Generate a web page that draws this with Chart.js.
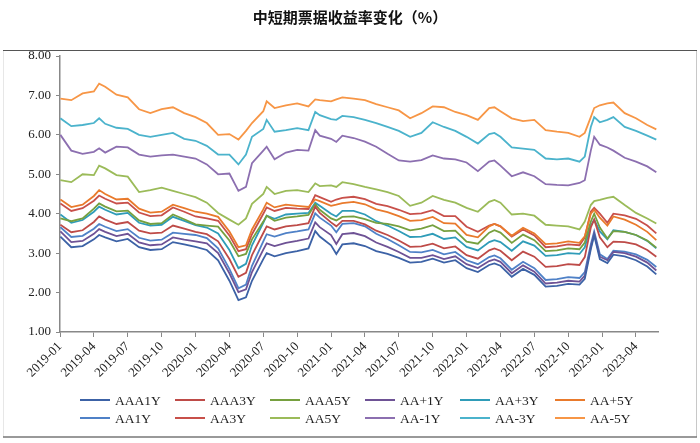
<!DOCTYPE html>
<html>
<head>
<meta charset="utf-8">
<script src="https://cdn.jsdelivr.net/npm/chart.js@4.4.0/dist/chart.umd.min.js"></script>
<style>
  html, body { margin: 0; padding: 0; background: #fff; }
  #wrap { width: 700px; height: 443px; position: relative; }
</style>
</head>
<body>
<div id="wrap"><canvas id="chart" width="700" height="443"></canvas></div>
<script>
// observation dates (irregular where the curves move fast)
const dates = [
  '2019-01-02','2019-02-01','2019-03-01','2019-04-01','2019-04-15','2019-05-01','2019-06-01','2019-07-01','2019-08-01','2019-09-01','2019-10-01','2019-11-01','2019-12-01',
  '2020-01-01','2020-02-01','2020-03-01','2020-04-01','2020-04-25','2020-05-15','2020-06-01','2020-07-01','2020-07-10','2020-08-01','2020-09-01','2020-10-01','2020-11-01','2020-11-19','2020-12-01',
  '2021-01-01','2021-01-15','2021-02-01','2021-03-01','2021-04-01','2021-05-01','2021-06-01','2021-07-01','2021-08-01','2021-09-01','2021-10-01','2021-11-01','2021-12-01',
  '2022-01-01','2022-02-01','2022-03-01','2022-03-15','2022-04-01','2022-05-01','2022-06-01','2022-07-01','2022-08-01','2022-09-01','2022-10-01','2022-11-01','2022-11-15','2022-12-01','2022-12-10','2022-12-25',
  '2023-01-15','2023-02-01','2023-03-01','2023-04-01','2023-05-01','2023-05-25'
];

const seriesNames = ['AAA1Y', 'AAA3Y', 'AAA5Y', 'AA+1Y', 'AA+3Y', 'AA+5Y', 'AA1Y', 'AA3Y', 'AA5Y', 'AA-1Y', 'AA-3Y', 'AA-5Y'];
const seriesColors = ['#3c62a6', '#be4b48', '#76a03f', '#6e5295', '#2f9cb8', '#e97a2c', '#4f81c7', '#c8504a', '#9bbb59', '#8c6fb0', '#4bb3cc', '#f79646'];

const aaa1y = [3.42,3.15,3.18,3.35,3.46,3.40,3.30,3.36,3.15,3.08, 3.10,3.28,3.22,3.16,3.08,2.82,2.30,1.81,1.88,2.30,
  2.85,3.00,2.92,3.00,3.05,3.12,3.56,3.42,3.20,2.98, 3.22,3.25,3.18,3.05,2.98,2.88,2.76,2.78,2.86,2.76,
  2.82,2.62,2.52,2.70,2.74,2.68,2.40,2.60,2.45,2.15, 2.17,2.22,2.20,2.35,3.10,3.45,2.85,2.75,2.96,2.92, 2.82,2.66,2.46];
const aaa3y = [3.72,3.53,3.58,3.79,3.93,3.85,3.74,3.79,3.57,3.50, 3.52,3.70,3.62,3.54,3.48,3.30,2.85,2.40,2.50,2.95,
  3.51,3.68,3.60,3.68,3.71,3.76,4.18,4.02,3.78,3.68, 3.82,3.82,3.73,3.57,3.46,3.32,3.16,3.17,3.24,3.12,
  3.17,2.95,2.86,3.07,3.12,3.06,2.82,3.04,2.91,2.65, 2.67,2.72,2.70,2.90,3.65,3.85,3.40,3.15,3.29,3.28, 3.22,3.08,2.91];
const aaa5y = [3.88,3.81,3.88,4.13,4.26,4.18,4.06,4.08,3.83,3.74, 3.76,3.98,3.86,3.73,3.70,3.67,3.32,2.92,2.98,3.35,
  3.80,3.95,3.82,3.90,3.93,3.97,4.24,4.10,3.88,3.83, 3.92,3.93,3.86,3.77,3.74,3.68,3.58,3.62,3.71,3.56,
  3.57,3.29,3.24,3.52,3.58,3.52,3.26,3.47,3.33,3.05, 3.07,3.12,3.10,3.27,3.80,4.00,3.65,3.37,3.56,3.54, 3.46,3.32,3.14];
const aap1y = [3.55,3.28,3.31,3.49,3.61,3.54,3.43,3.49,3.27,3.20, 3.22,3.40,3.34,3.30,3.25,3.00,2.49,2.01,2.08,2.52,
  3.09,3.25,3.18,3.26,3.31,3.37,3.78,3.66,3.46,3.23, 3.48,3.51,3.43,3.27,3.16,3.03,2.88,2.88,2.95,2.85,
  2.92,2.72,2.62,2.80,2.84,2.78,2.49,2.69,2.53,2.23, 2.25,2.30,2.28,2.43,3.15,3.49,2.91,2.82,3.03,3.00, 2.91,2.76,2.56];
const aap3y = [3.98,3.77,3.84,4.05,4.18,4.10,3.98,4.02,3.77,3.70, 3.72,3.92,3.82,3.71,3.65,3.50,3.08,2.62,2.73,3.20,
  3.77,3.95,3.87,3.98,4.00,4.02,4.28,4.20,4.00,3.93, 4.07,4.07,3.98,3.81,3.70,3.56,3.41,3.42,3.49,3.36,
  3.40,3.16,3.07,3.28,3.33,3.28,3.06,3.30,3.19,2.93, 2.95,3.00,2.98,3.15,3.70,3.85,3.55,3.35,3.58,3.54, 3.46,3.31,3.12];
const aap5y = [4.36,4.17,4.23,4.45,4.60,4.50,4.36,4.38,4.13,4.03, 4.05,4.23,4.14,4.05,4.00,3.92,3.55,3.15,3.20,3.60,
  4.11,4.28,4.16,4.23,4.20,4.17,4.36,4.32,4.20,4.23, 4.27,4.30,4.24,4.11,4.04,3.94,3.82,3.84,3.92,3.76,
  3.75,3.46,3.40,3.68,3.74,3.68,3.44,3.64,3.50,3.23, 3.25,3.30,3.26,3.43,4.00,4.10,3.90,3.70,3.93,3.85, 3.72,3.54,3.33];
const aa1y = [3.66,3.41,3.44,3.62,3.74,3.67,3.56,3.61,3.39,3.32, 3.34,3.52,3.49,3.46,3.38,3.12,2.60,2.11,2.20,2.68,
  3.30,3.48,3.42,3.51,3.55,3.60,4.01,3.90,3.70,3.53, 3.74,3.76,3.68,3.49,3.36,3.20,3.03,3.02,3.08,2.97,
  3.03,2.82,2.72,2.90,2.94,2.87,2.58,2.78,2.62,2.32, 2.34,2.39,2.37,2.52,3.22,3.55,2.97,2.85,3.06,3.04, 2.97,2.83,2.65];
const aa3y = [4.26,4.07,4.14,4.33,4.46,4.38,4.26,4.28,4.03,3.94, 3.96,4.16,4.05,3.93,3.88,3.82,3.45,3.05,3.10,3.48,
  4.00,4.16,4.07,4.15,4.13,4.12,4.47,4.42,4.30,4.36, 4.40,4.43,4.37,4.25,4.19,4.10,3.99,4.01,4.09,3.94,
  3.94,3.67,3.54,3.70,3.74,3.68,3.42,3.60,3.45,3.15, 3.17,3.22,3.20,3.40,4.05,4.15,4.00,3.77,4.00,3.96, 3.87,3.70,3.50];
const aa5y = [4.85,4.80,5.00,4.98,5.22,5.15,4.98,4.94,4.55,4.60, 4.66,4.58,4.50,4.42,4.28,4.02,3.85,3.72,3.88,4.25,
  4.50,4.68,4.50,4.58,4.60,4.55,4.77,4.70,4.72,4.68, 4.80,4.75,4.68,4.62,4.55,4.45,4.20,4.28,4.45,4.35,
  4.28,4.15,4.05,4.30,4.35,4.28,3.98,4.00,3.95,3.72, 3.70,3.68,3.60,3.80,4.22,4.32,4.35,4.40,4.43,4.22, 4.02,3.88,3.75];
const aam1y = [6.00,5.60,5.52,5.57,5.66,5.55,5.70,5.68,5.50,5.45, 5.48,5.50,5.45,5.40,5.25,5.00,5.02,4.58,4.68,5.28,
  5.60,5.70,5.38,5.55,5.62,5.60,6.12,5.98,5.90,5.82, 5.98,5.92,5.83,5.70,5.52,5.35,5.32,5.36,5.48,5.40,
  5.38,5.30,5.08,5.32,5.35,5.22,4.95,5.05,4.95,4.75, 4.73,4.72,4.78,4.85,5.60,5.95,5.75,5.68,5.60,5.42, 5.32,5.20,5.05];
const aam3y = [6.42,6.22,6.25,6.30,6.42,6.28,6.18,6.15,6.00,5.95, 6.00,6.05,5.90,5.85,5.72,5.50,5.50,5.25,5.50,5.95,
  6.15,6.38,6.08,6.12,6.17,6.12,6.58,6.50,6.40,6.38, 6.48,6.45,6.38,6.30,6.20,6.10,5.95,6.05,6.32,6.20,
  6.10,5.95,5.78,6.02,6.05,5.95,5.68,5.65,5.62,5.40, 5.38,5.40,5.32,5.45,6.20,6.45,6.32,6.38,6.45,6.20, 6.10,5.98,5.88];
const aam5y = [6.92,6.88,7.05,7.10,7.30,7.22,7.02,6.95,6.65,6.55, 6.65,6.70,6.55,6.45,6.30,6.00,6.02,5.88,6.10,6.30,
  6.60,6.85,6.68,6.75,6.80,6.72,6.90,6.88,6.85,6.90, 6.95,6.92,6.88,6.78,6.70,6.62,6.42,6.55,6.72,6.70,
  6.58,6.50,6.38,6.68,6.70,6.60,6.42,6.35,6.38,6.12, 6.08,6.05,5.95,6.05,6.45,6.68,6.75,6.80,6.82,6.55, 6.42,6.25,6.14];

const seriesValues = [aaa1y, aaa3y, aaa5y, aap1y, aap3y, aap5y, aa1y, aa3y, aa5y, aam1y, aam3y, aam5y];

const yTicks = [1, 2, 3, 4, 5, 6, 7, 8];

// months since 2019-01, used as the x position
function monthIndex(s) {
  const p = s.split('-').map(Number);
  return (p[0] - 2019) * 12 + (p[1] - 1) + (p[2] - 1) / 30;
}

function monthLabel(v) {
  const y = 2019 + Math.floor(v / 12);
  const m = Math.round(v % 12) + 1;
  return y + '-' + String(m).padStart(2, '0');
}

const datasets = seriesNames.map(function (name, i) {
  return {
    label: name,
    data: seriesValues[i].map(function (v, j) { return {x: monthIndex(dates[j]), y: v}; }),
    borderColor: seriesColors[i],
    backgroundColor: seriesColors[i],
    borderWidth: 1.8,
    pointRadius: 0,
    tension: 0
  };
});

const serif = "'Liberation Serif', 'DejaVu Serif', serif";

const decor = {
  id: 'decor',
  beforeDraw: function (chart) {
    const ctx = chart.ctx;
    ctx.save();
    ctx.fillStyle = '#fff';
    ctx.fillRect(0, 0, chart.width, chart.height);
    // frame round the chart
    ctx.strokeStyle = '#d0d0d0';
    ctx.lineWidth = 1;
    ctx.setLineDash([1, 1]);
    ctx.beginPath();
    ctx.moveTo(3.5, 50.5); ctx.lineTo(3.5, 437);
    ctx.stroke();
    ctx.setLineDash([]);
    ctx.strokeStyle = '#c8c8c8';
    ctx.beginPath();
    ctx.moveTo(696.5, 50.5); ctx.lineTo(696.5, 437);
    ctx.stroke();
    ctx.strokeStyle = '#555';
    ctx.beginPath();
    ctx.moveTo(3, 50.5); ctx.lineTo(697, 50.5);
    ctx.stroke();
    ctx.strokeStyle = '#777';
    ctx.lineWidth = 1.5;
    ctx.beginPath();
    ctx.moveTo(3, 437); ctx.lineTo(697, 437);
    ctx.stroke();
    // title
    ctx.fillStyle = '#111';
    ctx.font = "bold 15px 'Noto Sans CJK SC', sans-serif";
    ctx.textAlign = 'center';
    ctx.textBaseline = 'middle';
    ctx.fillText('中短期票据收益率变化（%）', 350, 17);
    ctx.restore();
  },
  afterDraw: function (chart) {
    // legend laid out in fixed columns, two rows
    const ctx = chart.ctx;
    const colX = [80, 175, 270, 365, 460, 555];
    const rowY = [400, 418];
    ctx.save();
    ctx.font = '13.5px ' + serif;
    ctx.textAlign = 'left';
    ctx.textBaseline = 'middle';
    chart.data.datasets.forEach(function (ds, i) {
      const x = colX[i % 6];
      const y = rowY[Math.floor(i / 6)];
      ctx.strokeStyle = ds.borderColor;
      ctx.lineWidth = 2;
      ctx.beginPath();
      ctx.moveTo(x, y);
      ctx.lineTo(x + 30, y);
      ctx.stroke();
      ctx.fillStyle = '#222';
      ctx.fillText(ds.label, x + 35, y + 1);
    });
    ctx.restore();
  }
};

new Chart(document.getElementById('chart'), {
  type: 'line',
  data: {datasets: datasets},
  plugins: [decor],
  options: {
    responsive: false,
    animation: false,
    devicePixelRatio: 1,
    layout: {padding: {left: 10, right: 42, top: 56, bottom: 0}},
    plugins: {
      legend: {display: false},
      title: {display: false},
      tooltip: {enabled: false}
    },
    scales: {
      x: {
        type: 'linear',
        min: 0,
        max: 52.95,
        afterFit: function (scale) { scale.height = 111; },
        border: {display: true, color: '#888', width: 1.5},
        grid: {drawOnChartArea: false, drawTicks: true, tickLength: 5, color: '#888'},
        ticks: {
          stepSize: 3,
          includeBounds: false,
          autoSkip: false,
          maxRotation: 45,
          minRotation: 45,
          padding: 2,
          color: '#222',
          font: {family: serif, size: 13},
          callback: monthLabel
        }
      },
      y: {
        min: yTicks[0],
        max: yTicks[yTicks.length - 1],
        afterFit: function (scale) { scale.width = 50; },
        border: {display: true, color: '#888', width: 1.5},
        grid: {drawOnChartArea: false, drawTicks: true, tickLength: 4, color: '#888'},
        ticks: {
          stepSize: 1,
          padding: 5,
          color: '#222',
          font: {family: serif, size: 13},
          callback: function (v) { return v.toFixed(2); }
        }
      }
    }
  }
});
</script>
</body>
</html>
